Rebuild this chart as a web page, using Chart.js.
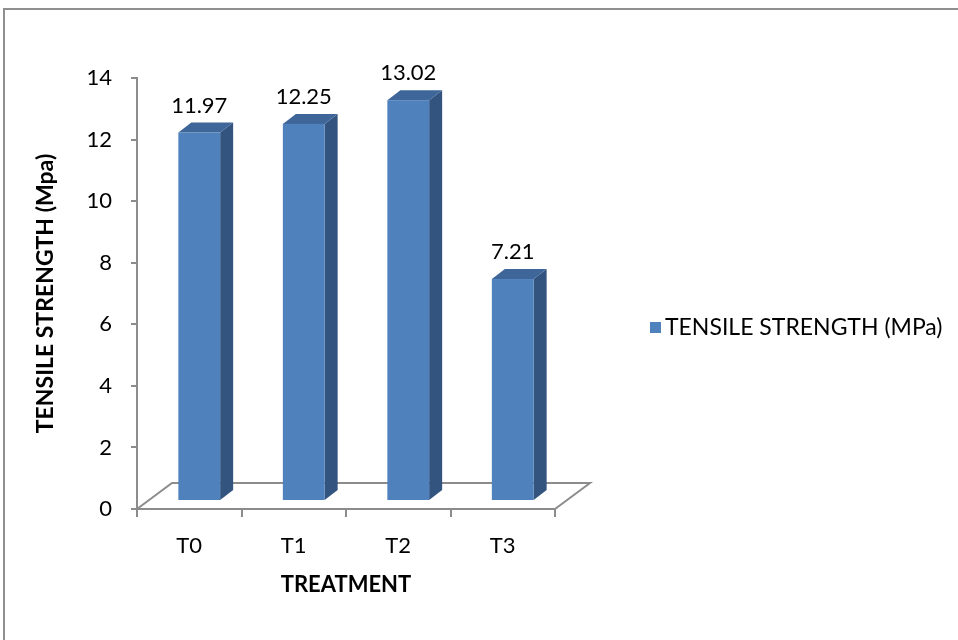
<!DOCTYPE html>
<html>
<head>
<meta charset="utf-8">
<script src="https://cdn.jsdelivr.net/npm/chart.js@4"></script>
<style>
  html, body { margin: 0; padding: 0; background: #fff; }
  #wrap { width: 958px; height: 640px; position: relative; }
</style>
</head>
<body>
<div id="wrap"><canvas id="c" width="958" height="640"></canvas></div>
<script>
// Data
const categories = ['T0', 'T1', 'T2', 'T3'];
const tensileStrength = [11.97, 12.25, 13.02, 7.21];
const seriesLabel = 'TENSILE STRENGTH (MPa)';
const yTickValues = [0, 2, 4, 6, 8, 10, 12, 14];
const xAxisTitle = 'TREATMENT';
const yAxisTitle = 'TENSILE STRENGTH (Mpa)';

// Styling
const FONT = 'Lato, "Open Sans", sans-serif';
const AXIS_GRAY = '#8c8c8c';
const FRONT = '#4f81bd';
const TOP = '#3e6698';
const SIDE = '#32547f';
// 3D geometry (pixels): floor depth, bar placement within the depth, bar depth
const FLOOR_DX = 35, FLOOR_DY = -26;
const BAR_SHIFT_X = 10, BAR_SHIFT_Y = -8;
const BAR_DX = 13, BAR_DY = -10;
const LABEL_GAP = 27;

const frame = {
  id: 'frame',
  beforeDraw(chart) {
    const ctx = chart.ctx;
    ctx.save();
    ctx.fillStyle = '#fff';
    ctx.fillRect(0, 0, chart.width, chart.height);
    ctx.strokeStyle = '#8f8f8f';
    ctx.lineWidth = 2;
    ctx.beginPath();
    ctx.moveTo(4, chart.height + 2);
    ctx.lineTo(4, 9);
    ctx.lineTo(chart.width + 2, 9);
    ctx.stroke();
    ctx.restore();
  }
};

// Floor outline behind the bars
const floor = {
  id: 'floor',
  beforeDatasetsDraw(chart) {
    const {ctx, chartArea: a} = chart;
    ctx.save();
    ctx.strokeStyle = AXIS_GRAY;
    ctx.lineWidth = 2;
    ctx.beginPath();
    ctx.moveTo(a.left, a.bottom);
    ctx.lineTo(a.left + FLOOR_DX, a.bottom + FLOOR_DY);
    ctx.lineTo(a.right + FLOOR_DX, a.bottom + FLOOR_DY);
    ctx.lineTo(a.right, a.bottom);
    ctx.stroke();
    ctx.restore();
  }
};

// 3D boxes drawn from the bar elements, plus value labels
const bars3d = {
  id: 'bars3d',
  afterDatasetsDraw(chart) {
    const ctx = chart.ctx;
    const meta = chart.getDatasetMeta(0);
    const values = chart.data.datasets[0].data;
    ctx.save();
    meta.data.forEach((bar, i) => {
      const {x, y, base, width} = bar.getProps(['x', 'y', 'base', 'width'], true);
      const l = x - width / 2 + BAR_SHIFT_X;
      const r = x + width / 2 + BAR_SHIFT_X;
      const t = y + BAR_SHIFT_Y;
      const b = base + BAR_SHIFT_Y;
      // side face
      ctx.fillStyle = SIDE;
      ctx.beginPath();
      ctx.moveTo(r, t);
      ctx.lineTo(r + BAR_DX, t + BAR_DY);
      ctx.lineTo(r + BAR_DX, b + BAR_DY);
      ctx.lineTo(r, b);
      ctx.closePath();
      ctx.fill();
      // top face
      ctx.fillStyle = TOP;
      ctx.beginPath();
      ctx.moveTo(l, t);
      ctx.lineTo(l + BAR_DX, t + BAR_DY);
      ctx.lineTo(r + BAR_DX, t + BAR_DY);
      ctx.lineTo(r, t);
      ctx.closePath();
      ctx.fill();
      // front face
      ctx.fillStyle = FRONT;
      ctx.fillRect(l, t, r - l, b - t);
      // value label
      ctx.fillStyle = '#000';
      ctx.font = '22px ' + FONT;
      ctx.textAlign = 'center';
      ctx.textBaseline = 'middle';
      ctx.fillText(values[i].toFixed(2), (l + r) / 2, t - LABEL_GAP);
    });
    ctx.restore();
  }
};

// Legend on the right
const sideLegend = {
  id: 'sideLegend',
  afterDraw(chart) {
    const ctx = chart.ctx;
    const ds = chart.data.datasets[0];
    ctx.save();
    ctx.fillStyle = FRONT;
    ctx.fillRect(650, 322, 11, 11);
    ctx.fillStyle = '#000';
    ctx.font = '23px ' + FONT;
    ctx.textAlign = 'left';
    ctx.textBaseline = 'middle';
    ctx.fillText(ds.label, 665, 328);
    ctx.restore();
  }
};

const chart = new Chart(document.getElementById('c'), {
  type: 'bar',
  data: {
    labels: categories,
    datasets: [{
      label: seriesLabel,
      data: tensileStrength,
      backgroundColor: 'rgba(0,0,0,0)',
      borderWidth: 0,
      barPercentage: 0.4,
      categoryPercentage: 1.0
    }]
  },
  options: {
    responsive: false,
    devicePixelRatio: 1,
    animation: false,
    layout: { padding: { left: 0, right: 403, top: 78, bottom: 0 } },
    plugins: {
      legend: { display: false },
      tooltip: { enabled: false }
    },
    scales: {
      x: {
        offset: true,
        grid: {
          offset: true,
          drawOnChartArea: false,
          drawTicks: true,
          tickLength: 8,
          color: AXIS_GRAY,
          lineWidth: 2
        },
        border: { display: true, color: AXIS_GRAY, width: 2 },
        ticks: { color: '#000', font: { family: FONT, size: 22 }, padding: 16 },
        title: {
          display: true,
          text: xAxisTitle,
          color: '#000',
          font: { family: FONT, size: 22, weight: 'bold' },
          padding: { top: 0, bottom: 42 }
        },
        afterFit(scale) { scale.height = 131; }
      },
      y: {
        min: 0,
        max: 14,
        afterBuildTicks(scale) { scale.ticks = yTickValues.map(v => ({ value: v })); },
        grid: {
          drawOnChartArea: false,
          drawTicks: true,
          tickLength: 6,
          color: AXIS_GRAY,
          lineWidth: 2
        },
        border: { display: true, color: AXIS_GRAY, width: 2 },
        ticks: { color: '#000', font: { family: FONT, size: 22 }, padding: 19 },
        title: {
          display: true,
          text: yAxisTitle,
          color: '#000',
          font: { family: FONT, size: 23, weight: 'bold' },
          padding: { top: 32, bottom: 0 }
        },
        afterFit(scale) { scale.width = 137; }
      }
    }
  },
  plugins: [frame, floor, bars3d, sideLegend]
});
</script>
</body>
</html>
